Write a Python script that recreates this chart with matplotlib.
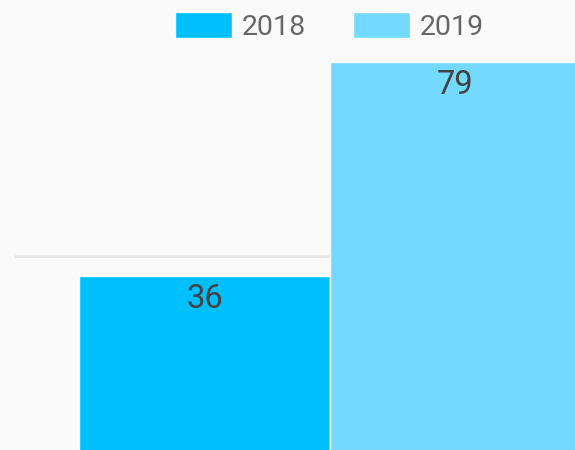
import matplotlib.pyplot as plt

# data
years = ['2018', '2019']
values = [36, 79]
colors = ['#00bfff', '#73d9ff']

plt.rcParams['font.family'] = ['Roboto', 'DejaVu Sans']

fig = plt.figure(figsize=(5.75, 4.5), dpi=100, facecolor='#fafafa')
# plot area runs past the bottom and right edge of the picture (cropped view)
ax = fig.add_axes([15 / 575, -5.2 / 450, 1 - 15 / 575, 398.4 / 450])
ax.set_facecolor('#fafafa')

width = 1.0
offsets = [-0.5, 0.5]
for yr, val, col, off in zip(years, values, colors, offsets):
    ax.bar(off, val, width=width, color=col, edgecolor='white',
           linewidth=1.0, label=yr, zorder=2)
    ax.annotate(str(val), xy=(off, val), xytext=(0, -5), textcoords='offset points',
                ha='center', va='top', fontsize=23.5, color='#424242', zorder=3)

ax.set_xlim(-1.255, 0.976)
ax.set_ylim(0, 80)
ax.set_yticks([40])
ax.grid(axis='y', color='#e6e6e6', linewidth=2.0, zorder=0)
ax.set_xticks([])
ax.tick_params(left=False, labelleft=False)
for s in ax.spines.values():
    s.set_visible(False)

fig.legend(loc='center', bbox_to_anchor=(329.5 / 575, 1 - 26.5 / 450), ncol=2,
           frameon=False, fontsize=20.5, labelcolor='#666666',
           handlelength=2.0, handleheight=1.04, handletextpad=0.36,
           columnspacing=1.65, borderpad=0)

fig.savefig('out.png', dpi=100, facecolor=fig.get_facecolor())
